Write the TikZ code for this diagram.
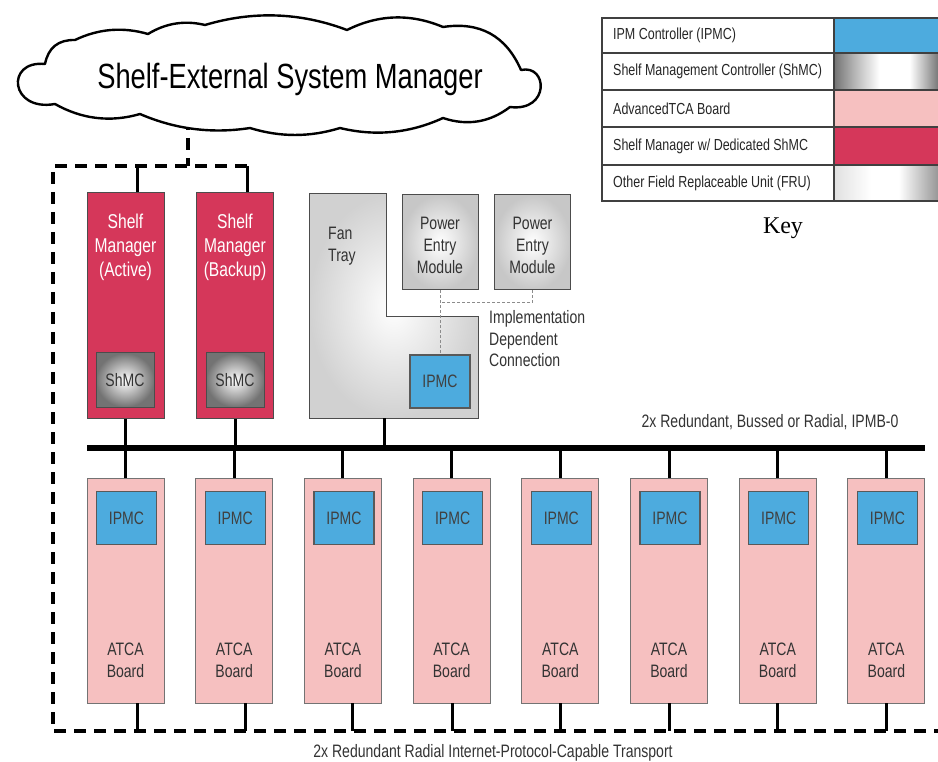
\documentclass[tikz,border=0pt]{standalone}
\usepackage{fontspec}
\setmainfont{Liberation Sans}
\newfontfamily\narrowfont[FakeStretch=0.78]{Liberation Sans}
\newfontfamily\keyfont{Liberation Serif}
\definecolor{ipmcblue}{RGB}{77,171,222}
\definecolor{boardpink}{RGB}{246,192,192}
\definecolor{smred}{RGB}{213,55,90}
\pgfdeclarehorizontalshading{shmcshade}{100bp}{color(0bp)=(black!55); color(25bp)=(black!55); color(34bp)=(black!30); color(46bp)=(white); color(60bp)=(white); color(75bp)=(black!60); color(100bp)=(black!60)}
\pgfdeclarehorizontalshading{frushade}{100bp}{color(0bp)=(black!12); color(25bp)=(black!12); color(42bp)=(white); color(55bp)=(white); color(75bp)=(black!45); color(100bp)=(black!45)}
\tikzset{
  txt/.style={font=\narrowfont\fontsize{18}{22}\selectfont, inner sep=0, align=center, text=black!80},
  keytxt/.style={font=\narrowfont\fontsize{16}{18}\selectfont, inner sep=0, anchor=west, text=black!85},
  board/.style={draw=black!55, line width=0.9, fill=boardpink, minimum width=77, minimum height=225, inner sep=0},
  ipmc/.style={draw=black!65, line width=1.2, fill=ipmcblue, minimum width=60, minimum height=53, inner sep=0, font=\narrowfont\fontsize{18}{20}\selectfont, text=black!75},
  smgr/.style={draw=black!70, line width=1, fill=smred, minimum width=77, minimum height=225, inner sep=0},
  shmc/.style={draw=black!70, line width=1, inner color=white, outer color=black!55, minimum width=58, minimum height=54, inner sep=0, font=\narrowfont\fontsize{18}{20}\selectfont, text=black!80},
  pem/.style={draw=black!70, line width=1, inner color=white, outer color=black!22, minimum width=76, minimum height=95, inner sep=0},
  conn/.style={line width=3, black},
  busline/.style={line width=6, black},
  frame/.style={line width=4, black, dash pattern=on 12pt off 8pt},
  impl/.style={draw=black!45, line width=1, dash pattern=on 3pt off 2pt},
  swatch/.style={draw=black!75, line width=1.5},
  cloudline/.style={draw=black, line width=2.4, fill=white, line join=round}
}
\begin{document}
\begin{tikzpicture}[x=1pt,y=-1pt]
\useasboundingbox (0,0) rectangle (938,762);
\fill[white] (0,0) rectangle (938,762);

% coordinates
\coordinate (frametop) at (0,166);
\coordinate (frameb) at (0,731);
\coordinate (busL) at (87,448);
\coordinate (busR) at (925,448);
\coordinate (cloudconn) at (188,118);

% frame and cloud link
\draw[frame] (247,166) -- (53,166) -- (53,731) -- (945,731);
\draw[frame] (cloudconn) -- (cloudconn |- frametop);

% cloud
\path[cloudline] (45,64)
  .. controls (48.3,47.6) and (58.3,39.6) .. (75,40)
  .. controls (98.5,28.7) and (122.9,26.7) .. (148,34)
  .. controls (165.8,23.1) and (184.8,20.1) .. (205,25)
  .. controls (252.9,10.7) and (300.3,12.3) .. (347,30)
  .. controls (378.5,14.3) and (410.5,13.3) .. (443,27)
  .. controls (480,21.4) and (506,35.8) .. (521,70)
  .. controls (548,64) and (550,112) .. (510,107)
  .. controls (489.6,122.5) and (467.2,126.1) .. (443,118)
  .. controls (409.9,133.2) and (375.5,136.6) .. (340,128)
  .. controls (310,137.3) and (280,137.3) .. (250,128)
  .. controls (212,133.9) and (175.4,129.3) .. (140,114)
  .. controls (110.3,122.6) and (81.9,119.2) .. (55,104)
  .. controls (10,112) and (5,60) .. (45,64) -- cycle;
\node[font=\narrowfont\fontsize{35}{40}\selectfont, inner sep=0] (title) at (290,79) {Shelf-External System Manager};

% bus
\draw[busline] (busL) -- (busR);
\node[txt, font=\narrowfont\fontsize{18}{20}\selectfont] (buslbl) at (770,422) {2x Redundant, Bussed or Radial, IPMB-0};

% shelf managers
\node[smgr] (sm1) at (125.5,305.5) {};
\node[smgr] (sm2) at (235,305.5) {};
\node[txt, text=white, font=\narrowfont\fontsize{20}{24}\selectfont] (smt1) at (125.5,247) {Shelf\\Manager\\(Active)};
\node[txt, text=white, font=\narrowfont\fontsize{20}{24}\selectfont] (smt2) at (235,247) {Shelf\\Manager\\(Backup)};
\node[shmc] (shmc1) at (125,380) {ShMC};
\node[shmc] (shmc2) at (235,380) {ShMC};
\path ([xshift=11.5pt]sm1.north) coordinate (st1);
\path ([xshift=12pt]sm2.north) coordinate (st2);
\draw[conn] (st1) -- (st1 |- frametop);
\draw[conn] (st2) -- (st2 |- frametop);
\draw[conn] (sm1.south) -- (sm1.south |- busL);
\draw[conn] (sm2.south) -- (sm2.south |- busL);

% fan tray
\shadedraw[inner color=white, outer color=black!18, draw=black!70, line width=1]
  (309,194) -- (386,194) -- (386,317) -- (478,317) -- (478,418) -- (309,418) -- cycle;
\coordinate (fan) at (384,418);
\node[txt, align=left, anchor=west] (fantxt) at (328,246.5) {Fan\\Tray};
\node[ipmc] (fipmc) at (440,381.5) {IPMC};
\draw[conn] (fan) -- (fan |- busL);

% power entry modules
\node[pem] (pem1) at (440,242.5) {};
\node[pem] (pem2) at (532.5,242.5) {};
\node[txt] (pemt1) at (440,245) {Power\\Entry\\Module};
\node[txt] (pemt2) at (532.5,245) {Power\\Entry\\Module};
\coordinate (implrow) at (0,303);
\draw[impl] (pem1.south) -- (fipmc.north);
\draw[impl] (pem2.south) |- (pem1.south |- implrow);
\node[txt, align=left, anchor=west, font=\narrowfont\fontsize{18}{21.5}\selectfont] (impltxt) at (489,339) {Implementation\\Dependent\\Connection};

% ATCA boards
\foreach \i/\x/\dx in {1/125.5/11.5, 2/234.2/10.8, 3/342.9/10, 4/451.6/0.4, 5/560.3/0, 6/669/0, 7/777.7/0, 8/886.4/0}{
  \node[board] (b\i) at (\x,590.5) {};
  \node[ipmc] (bi\i) at (\x+1,518) {IPMC};
  \node[txt] (bt\i) at (\x,660.5) {ATCA\\Board};
  \draw[conn] (b\i.north) -- (b\i.north |- busL);
  \path ([xshift=\dx pt]b\i.south) coordinate (bs\i);
  \draw[conn] (bs\i) -- (bs\i |- frameb);
}
\node[txt, font=\narrowfont\fontsize{18}{20}\selectfont] (translbl) at (493,753) {2x Redundant Radial Internet-Protocol-Capable Transport};

% key
\draw[swatch, fill=ipmcblue] (834,18) rectangle (942,53);
\draw[swatch, shading=shmcshade] (834,53) rectangle (942,90);
\draw[swatch, fill=boardpink] (834,90) rectangle (942,127);
\draw[swatch, fill=smred] (834,127) rectangle (942,165);
\draw[swatch, shading=frushade] (834,165) rectangle (942,201);
\draw[swatch] (602,18) rectangle (834,53);
\draw[swatch] (602,53) rectangle (834,90);
\draw[swatch] (602,90) rectangle (834,127);
\draw[swatch] (602,127) rectangle (834,165);
\draw[swatch] (602,165) rectangle (834,201);
\node[keytxt] (k1) at (613,35.5) {IPM Controller (IPMC)};
\node[keytxt] (k2) at (613,71.5) {Shelf Management Controller (ShMC)};
\node[keytxt] (k3) at (613,108.5) {AdvancedTCA Board};
\node[keytxt] (k4) at (613,146) {Shelf Manager w/ Dedicated ShMC};
\node[keytxt] (k5) at (613,183) {Other Field Replaceable Unit (FRU)};
\node[font=\keyfont\fontsize{24}{26}\selectfont, inner sep=0] (keyttl) at (783,228) {Key};
\end{tikzpicture}
\end{document}
